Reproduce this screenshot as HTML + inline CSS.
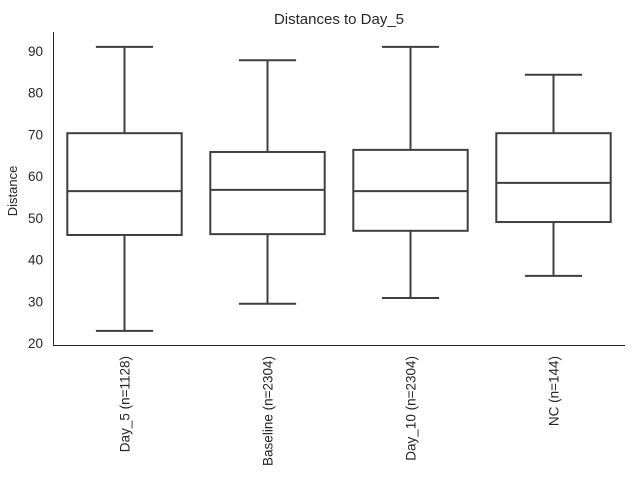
<!DOCTYPE html>
<html><head><meta charset="utf-8"><style>
body{margin:0;background:#fff;}
svg{font-family:"Liberation Sans","DejaVu Sans",sans-serif;}
</style></head><body>
<svg id="chart" width="640" height="480" viewBox="0 0 640 480">
<text x="339" y="24" text-anchor="middle" font-size="15" fill="#262626">Distances to Day_5</text>
<text transform="translate(17,191) rotate(-90)" text-anchor="middle" font-size="13" fill="#262626">Distance</text>
<g id="yticks"></g>
<g id="boxes"></g>
<g id="xlabels"></g>
<line x1="53.5" y1="32" x2="53.5" y2="345.5" stroke="#262626" stroke-width="1"/>
<line x1="53" y1="345.5" x2="625" y2="345.5" stroke="#262626" stroke-width="1"/>
</svg>
<script>
const categories=["Day_5 (n=1128)","Baseline (n=2304)","Day_10 (n=2304)","NC (n=144)"];
const whiskerLow=[22.9,29.4,30.8,36.1];
const q1=[45.9,46.1,46.9,49.0];
const medians=[56.4,56.7,56.4,58.4];
const q3=[70.3,65.8,66.3,70.3];
const whiskerHigh=[91.0,87.8,91.0,84.3];
const yTicks=[20,30,40,50,60,70,80,90];
const NS="http://www.w3.org/2000/svg";
const plotL=53,plotR=625;
const y=v=>343-(v-20)*4.171;
const band=(plotR-plotL)/categories.length;
const xc=i=>plotL+band*(i+0.5);
function mk(tag,attrs,parent){const e=document.createElementNS(NS,tag);for(const k in attrs)e.setAttribute(k,attrs[k]);parent.appendChild(e);return e;}
const yt=document.getElementById('yticks');
yTicks.forEach(t=>{
 const e=mk('text',{x:43,y:y(t)+5,'text-anchor':'end','font-size':13.5,fill:'#262626'},yt);
 
 
 e.textContent=t;
});
const bg=document.getElementById('boxes');
const xl=document.getElementById('xlabels');
const st={stroke:'#3f3f3f','stroke-width':2,fill:'none'};
categories.forEach((c,i)=>{
 const cx=xc(i),w=band*0.8,l=cx-w/2,r=cx+w/2;
 const g=mk('g',{},bg);
 
 
 mk('line',Object.assign({x1:cx,x2:cx,y1:y(q3[i]),y2:y(whiskerHigh[i])},st),g);
 mk('line',Object.assign({x1:cx,x2:cx,y1:y(q1[i]),y2:y(whiskerLow[i])},st),g);
 mk('line',Object.assign({x1:cx-w/4,x2:cx+w/4,y1:y(whiskerHigh[i]),y2:y(whiskerHigh[i])},st),g);
 mk('line',Object.assign({x1:cx-w/4,x2:cx+w/4,y1:y(whiskerLow[i]),y2:y(whiskerLow[i])},st),g);
 mk('rect',Object.assign({x:l,y:y(q3[i]),width:w,height:y(q1[i])-y(q3[i])},st,{fill:'#fff'}),g);
 mk('line',Object.assign({x1:l,x2:r,y1:y(medians[i]),y2:y(medians[i])},st),g);
 const t=mk('text',{transform:`translate(${cx+5},356) rotate(-90)`,'text-anchor':'end','font-size':13.5,fill:'#262626'},xl);
 
 
 t.textContent=c;
});
</script>
</body></html>
